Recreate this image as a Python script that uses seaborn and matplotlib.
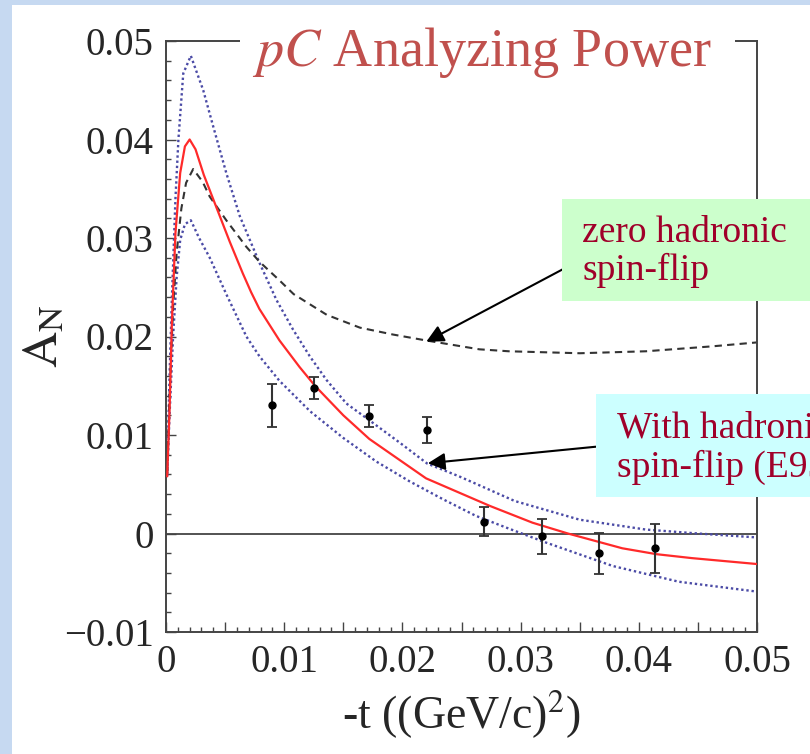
import matplotlib
matplotlib.use("Agg")
import matplotlib.pyplot as plt
from matplotlib.patches import Rectangle
from matplotlib.ticker import MultipleLocator, FuncFormatter
import seaborn as sns

# ---------------- data ----------------
t_red = [0.0001, 0.0003, 0.0005, 0.0008, 0.0012, 0.0016, 0.0020, 0.0025, 0.0032, 0.0043,
         0.0054, 0.0065, 0.0072, 0.0079, 0.0096, 0.0113, 0.0126, 0.0150, 0.0172, 0.0220,
         0.0274, 0.0310, 0.0340, 0.0386, 0.0415, 0.0445, 0.0500]
a_red = [0.0058, 0.0125, 0.0215, 0.0305, 0.0366, 0.0393, 0.0400, 0.0390, 0.0364, 0.0330,
         0.0296, 0.0264, 0.0245, 0.0228, 0.0196, 0.0169, 0.0150, 0.0120, 0.0096, 0.0056,
         0.0028, 0.0011, 0.0000, -0.0015, -0.0021, -0.0025, -0.0031]

t_zero = [0.0001, 0.0003, 0.0006, 0.0009, 0.0013, 0.0017, 0.0023, 0.0031, 0.0037, 0.0051,
          0.0068, 0.0079, 0.0096, 0.0108, 0.0136, 0.0164, 0.0192, 0.0220, 0.0265, 0.0290,
          0.0350, 0.0406, 0.0462, 0.0500]
a_zero = [0.0061, 0.0140, 0.0230, 0.0285, 0.0330, 0.0356, 0.0370, 0.0357, 0.0342, 0.0318,
          0.0291, 0.0276, 0.0257, 0.0243, 0.0222, 0.0209, 0.0202, 0.0196, 0.0187, 0.0185,
          0.0183, 0.0185, 0.0190, 0.0194]

t_up = [0.0001, 0.0003, 0.0005, 0.0008, 0.00105, 0.00146, 0.0021, 0.00315, 0.0040, 0.0051,
        0.00625, 0.0079, 0.00935, 0.01075, 0.01216, 0.01357, 0.01526, 0.0172, 0.0198, 0.0221,
        0.0248, 0.0265, 0.0295, 0.0350, 0.0406, 0.0450, 0.0500]
a_up = [0.0060, 0.0160, 0.0240, 0.0340, 0.0400, 0.0467, 0.0485, 0.0450, 0.0413, 0.0366,
        0.0322, 0.0275, 0.0237, 0.0207, 0.0180, 0.0156, 0.0132, 0.0115, 0.0092, 0.0071,
        0.0058, 0.0049, 0.0033, 0.0014, 0.0004, 0.0000, -0.0004]

t_lo = [0.0001, 0.0003, 0.0006, 0.0009, 0.0012, 0.0016, 0.0021, 0.0028, 0.0037, 0.0051,
        0.0068, 0.0079, 0.0096, 0.0122, 0.0150, 0.0178, 0.0206, 0.0234, 0.0262, 0.0290,
        0.0321, 0.0378, 0.0434, 0.0500]
a_lo = [0.0058, 0.0120, 0.0200, 0.0260, 0.0298, 0.0314, 0.0318, 0.0300, 0.0280, 0.0243,
        0.0200, 0.0180, 0.0155, 0.0124, 0.0097, 0.0073, 0.0053, 0.0035, 0.0018, 0.0005,
        -0.0009, -0.0033, -0.0049, -0.0059]

t_data = [0.0090, 0.0125, 0.0172, 0.0221, 0.0269, 0.0318, 0.0366, 0.0414]
a_data = [0.0130, 0.0148, 0.0119, 0.0105, 0.0012, -0.0003, -0.0020, -0.0015]
a_err = [0.0022, 0.0011, 0.0011, 0.0013, 0.0015, 0.0018, 0.0021, 0.0025]

y_ticks = [-0.01, 0, 0.01, 0.02, 0.03, 0.04, 0.05]

# ---------------- style ----------------
sns.set_style("white")
plt.rcParams["font.family"] = ["Liberation Serif", "DejaVu Serif"]
plt.rcParams["mathtext.fontset"] = "stix"

W, H = 810, 754
fig = plt.figure(figsize=(W / 100, H / 100), dpi=100)
fig.patch.set_facecolor("white")
ax = fig.add_axes([166 / W, 122 / H, 591 / W, 591 / H])
ax.set_facecolor("white")

# light blue frame strips
fig.add_artist(Rectangle((0, 0), 12 / W, 1, transform=fig.transFigure,
                         facecolor="#c6d9f1", edgecolor="none", zorder=0))
fig.add_artist(Rectangle((0, 1 - 5 / H), 1, 5 / H, transform=fig.transFigure,
                         facecolor="#c6d9f1", edgecolor="none", zorder=0))

# zero line
ax.axhline(0, color="#444444", lw=1.3, zorder=1)

blue = "#4b4ba6"
sns.lineplot(x=t_up, y=a_up, ax=ax, color=blue, lw=1.7, linestyle=(0, (1, 1.2)),
             errorbar=None, sort=False, zorder=2)
sns.lineplot(x=t_lo, y=a_lo, ax=ax, color=blue, lw=1.7, linestyle=(0, (1, 1.2)),
             errorbar=None, sort=False, zorder=2)
sns.lineplot(x=t_zero, y=a_zero, ax=ax, color="#333333", lw=1.5, linestyle=(0, (3.5, 2.5)),
             errorbar=None, sort=False, zorder=2)
sns.lineplot(x=t_red, y=a_red, ax=ax, color="#ff2a2a", lw=1.6, linestyle="-",
             errorbar=None, sort=False, zorder=3)

ax.errorbar(t_data, a_data, yerr=a_err, fmt="o", color="black", ecolor="#333333",
            elinewidth=1.5, capsize=3.6, capthick=1.3, markersize=5, zorder=4)

ax.set_xlim(0, 0.05)
ax.set_ylim(-0.01, 0.05)


def fmt(v, pos=None):
    if abs(v) < 1e-9:
        return "0"
    return f"{v:.2f}".replace("-", "\u2212")


def xfmt(v, pos=None):
    r = round(v / 0.01)
    if abs(v - r * 0.01) < 1e-9:
        return fmt(v)
    return ""


ax.xaxis.set_major_locator(MultipleLocator(0.005))
ax.xaxis.set_minor_locator(MultipleLocator(0.001))
ax.xaxis.set_major_formatter(FuncFormatter(xfmt))
ax.set_yticks(y_ticks)
ax.yaxis.set_minor_locator(MultipleLocator(0.002))
ax.yaxis.set_major_formatter(FuncFormatter(fmt))

ax.tick_params(axis="both", which="both", bottom=True, left=True, top=False, right=False)
ax.tick_params(axis="both", which="major", direction="in", length=7, width=1.0,
               color="#444444", labelsize=28, pad=9)
ax.tick_params(axis="both", which="minor", direction="in", length=3.6, width=1.0,
               color="#444444")

for sp in ax.spines.values():
    sp.set_color("#444444")
    sp.set_linewidth(1.4)
    sp.set_visible(True)

ax.set_xlabel("-t ((GeV/c)$^{2}$)", fontsize=33, labelpad=5)
ax.set_ylabel(r"$\mathrm{A_N}$", fontsize=36)
ax.yaxis.set_label_coords(-0.165, 0.5)

# title breaking top spine
ax.add_patch(Rectangle((0.125, 0.99), 0.838, 0.02, transform=ax.transAxes,
                       facecolor="white", edgecolor="none", clip_on=False, zorder=5))
ax.text(0.535, 0.9577, r"$\mathit{pC}$ Analyzing Power", transform=ax.transAxes,
        ha="center", va="baseline", fontsize=39, color="#c0504d", zorder=6, clip_on=False)

# annotation boxes
fig.add_artist(Rectangle((562 / W, 1 - 301 / H), (W - 562) / W, 102 / H,
                         transform=fig.transFigure, facecolor="#ccffcc",
                         edgecolor="none", zorder=5))
fig.add_artist(Rectangle((596 / W, 1 - 497 / H), (W - 596) / W, 103 / H,
                         transform=fig.transFigure, facecolor="#ccffff",
                         edgecolor="none", zorder=5))
tc = "#a0002a"
fig.text(582 / W, 1 - 242 / H, "zero hadronic", fontsize=27, color=tc,
         va="baseline", ha="left", zorder=6)
fig.text(582 / W, 1 - 280 / H, "spin-flip", fontsize=27, color=tc,
         va="baseline", ha="left", zorder=6)
fig.text(617 / W, 1 - 437 / H, "With hadronic", fontsize=27, color=tc,
         va="baseline", ha="left", zorder=6)
fig.text(617 / W, 1 - 477 / H, "spin-flip (E950)", fontsize=27, color=tc,
         va="baseline", ha="left", zorder=6)

# arrows
ap = dict(arrowstyle="-|>", color="black", lw=1.5, mutation_scale=26,
          shrinkA=0, shrinkB=0)
ax.annotate("", xy=(0.02202, 0.01947), xytext=(0.03356, 0.02682), arrowprops=ap,
            annotation_clip=False, zorder=7)
ax.annotate("", xy=(0.02215, 0.00713), xytext=(0.03636, 0.00881), arrowprops=ap,
            annotation_clip=False, zorder=7)

fig.savefig("out.png", dpi=100)
